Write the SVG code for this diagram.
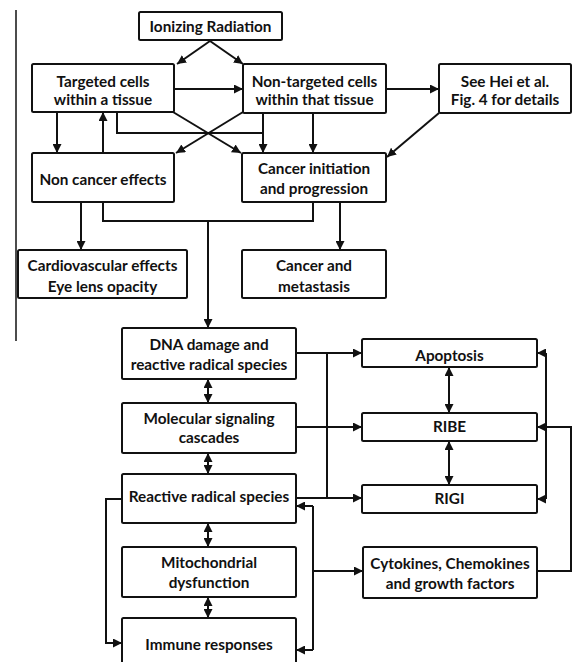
<svg xmlns="http://www.w3.org/2000/svg" width="581" height="662" viewBox="0 0 581 662">
<style>
.box{fill:#fff;stroke:#111;stroke-width:2}
.t{font-family:Lato,"Liberation Sans",sans-serif;font-weight:700;font-size:15.3px;fill:#111;text-anchor:middle}
.c{fill:none;stroke:#111;stroke-width:2}
.a{marker-end:url(#ah)}
.d{marker-start:url(#ah);marker-end:url(#ah)}
</style>
<defs>
<marker id="ah" viewBox="0 0 10 10" refX="10" refY="5" markerWidth="9" markerHeight="9" markerUnits="userSpaceOnUse" orient="auto-start-reverse">
<path d="M0,0 L10,5 L0,10 z" fill="#111"/>
</marker>
</defs>
<rect width="581" height="662" fill="#fff"/>
<line x1="16" y1="10" x2="16" y2="341" stroke="#111" stroke-width="1.5"/>
<g id="connectors">
<path class="c a" d="M210,41 L177,64"/>
<path class="c a" d="M210,41 L243,64"/>
<path class="c a" d="M174,89 H243"/>
<path class="c a" d="M386,89 H439"/>
<path class="c a" d="M439,113 L387,157"/>
<path class="c a" d="M57,112 V153"/>
<path class="c a" d="M103,153 V112"/>
<path class="c" d="M117,112 V133 H263"/>
<path class="c a" d="M263,113 V153"/>
<path class="c a" d="M313,113 V153"/>
<path class="c a" d="M173,112 L241,153"/>
<path class="c a" d="M243,112 L176,153"/>
<path class="c a" d="M81,202 V250"/>
<path class="c" d="M103,202 V221 H313 V202"/>
<path class="c a" d="M208,221 V328"/>
<path class="c a" d="M340,202 V250"/>
<path class="c d" d="M208,379 V403"/>
<path class="c d" d="M208,453 V474"/>
<path class="c d" d="M208,523 V547"/>
<path class="c d" d="M208,597 V618"/>
<path class="c a" d="M296,353 H362"/>
<path class="c a" d="M296,427 H362"/>
<path class="c a" d="M296,498 H362"/>
<path class="c" d="M327,353 V498"/>
<path class="c d" d="M449,367 V413"/>
<path class="c d" d="M449,441 V485"/>
<path class="c a" d="M537,571 H571 V427 H537"/>
<path class="c" d="M546,353 V499"/>
<path class="c a" d="M546,353 H537"/>
<path class="c a" d="M546,499 H537"/>
<path class="c a" d="M122,499 H106 V643 H122"/>
<path class="c" d="M313,506 V650"/>
<path class="c a" d="M313,506 H296"/>
<path class="c a" d="M313,650 H296"/>
<path class="c a" d="M313,571 H363"/>
</g>
<g id="ionizing"><rect class="box" x="139" y="12" width="143" height="28" rx="1.5"/><text class="t" x="210.5" y="32">Ionizing Radiation</text></g>
<g id="targeted"><rect class="box" x="32" y="64" width="142" height="48" rx="1.5"/><text class="t" x="103" y="87">Targeted cells</text><text class="t" x="103" y="105">within a tissue</text></g>
<g id="nontargeted"><rect class="box" x="243" y="64" width="143" height="49" rx="1.5"/><text class="t" x="314.5" y="87">Non-targeted cells</text><text class="t" x="314.5" y="105">within that tissue</text></g>
<g id="seehei"><rect class="box" x="439" y="64" width="132" height="49" rx="1.5"/><text class="t" x="505" y="87">See Hei et al.</text><text class="t" x="505" y="105">Fig. 4 for details</text></g>
<g id="noncancer"><rect class="box" x="32" y="153" width="142" height="49" rx="1.5"/><text class="t" x="103" y="185">Non cancer effects</text></g>
<g id="cancerinit"><rect class="box" x="242" y="153" width="144" height="49" rx="1.5"/><text class="t" x="314" y="174">Cancer initiation</text><text class="t" x="314" y="194">and progression</text></g>
<g id="cardio"><rect class="box" x="18" y="250" width="169" height="48" rx="1.5"/><text class="t" x="102.5" y="271">Cardiovascular effects</text><text class="t" x="102.5" y="292">Eye lens opacity</text></g>
<g id="metastasis"><rect class="box" x="242" y="250" width="144" height="48" rx="1.5"/><text class="t" x="314" y="271">Cancer and</text><text class="t" x="314" y="292">metastasis</text></g>
<g id="dna"><rect class="box" x="122" y="328" width="174" height="51" rx="1.5"/><text class="t" x="209" y="350">DNA damage and</text><text class="t" x="209" y="370">reactive radical species</text></g>
<g id="molecular"><rect class="box" x="122" y="403" width="174" height="50" rx="1.5"/><text class="t" x="209" y="424">Molecular signaling</text><text class="t" x="209" y="443">cascades</text></g>
<g id="reactive"><rect class="box" x="122" y="474" width="174" height="49" rx="1.5"/><text class="t" x="209" y="502">Reactive radical species</text></g>
<g id="mito"><rect class="box" x="122" y="547" width="174" height="50" rx="1.5"/><text class="t" x="209" y="568">Mitochondrial</text><text class="t" x="209" y="588">dysfunction</text></g>
<g id="immune"><rect class="box" x="122" y="618" width="174" height="54" rx="1.5"/><text class="t" x="209" y="650">Immune responses</text></g>
<g id="apoptosis"><rect class="box" x="362" y="339" width="175" height="28" rx="1.5"/><text class="t" x="449.5" y="361">Apoptosis</text></g>
<g id="ribe"><rect class="box" x="362" y="413" width="175" height="28" rx="1.5"/><text class="t" x="449.5" y="432">RIBE</text></g>
<g id="rigi"><rect class="box" x="362" y="485" width="175" height="28" rx="1.5"/><text class="t" x="449.5" y="504">RIGI</text></g>
<g id="cytokines"><rect class="box" x="363" y="547" width="174" height="51" rx="1.5"/><text class="t" x="450" y="569">Cytokines, Chemokines</text><text class="t" x="450" y="589">and growth factors</text></g>
</svg>
